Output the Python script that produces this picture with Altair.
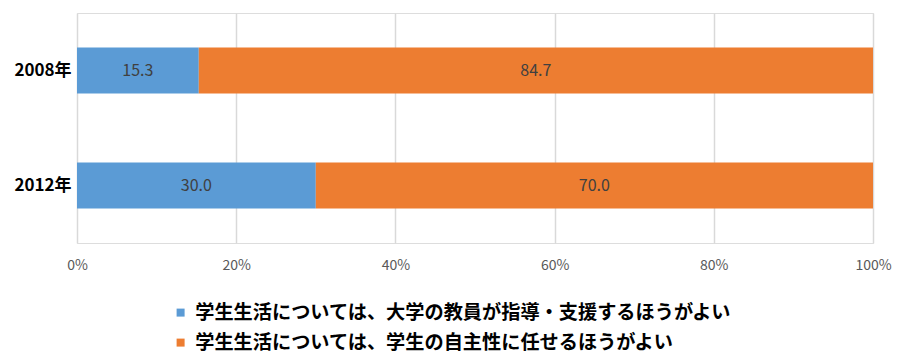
import altair as alt
import pandas as pd

years = ["2008年", "2012年"]
series = ["学生生活については、大学の教員が指導・支援するほうがよい",
          "学生生活については、学生の自主性に任せるほうがよい"]
guide = [15.3, 30.0]
autonomy = [84.7, 70.0]
colors = ["#5B9BD5", "#ED7D31"]
ticks = [0, 20, 40, 60, 80, 100]

rows = []
for i, y in enumerate(years):
    rows.append({"year": y, "series": series[0], "value": guide[i], "ord": 0})
    rows.append({"year": y, "series": series[1], "value": autonomy[i], "ord": 1})
df = pd.DataFrame(rows)

FONT = "Noto Sans CJK JP"

base = alt.Chart(df).transform_stack(
    stack="value", groupby=["year"], as_=["x0", "x1"],
    sort=[alt.SortField("ord", order="ascending")]
).transform_calculate(mid="(datum.x0 + datum.x1) / 2")

yenc = alt.Y("year:N", sort=years, title=None,
             scale=alt.Scale(paddingInner=0.6, paddingOuter=0.3),
             axis=alt.Axis(labelFontSize=17, labelFontWeight="bold", labelColor="#000000",
                           labelFont=FONT, ticks=False, domain=False, labelPadding=6))

bars = base.mark_bar().encode(
    x=alt.X("x0:Q", title=None,
            scale=alt.Scale(domain=[0, 100]),
            axis=alt.Axis(values=ticks, labelExpr="datum.value + '%'", grid=True,
                          gridColor="#D9D9D9", gridWidth=1.5, domain=False, ticks=False,
                          labelFlush=False, labelOverlap=False,
                          labelFontSize=14, labelColor="#595959", labelFont=FONT,
                          labelPadding=15)),
    x2="x1:Q",
    y=yenc,
    color=alt.Color("series:N", sort=series,
                    scale=alt.Scale(domain=series, range=colors),
                    legend=alt.Legend(title=None, orient="none", legendX=94, legendY=290,
                                      direction="vertical", symbolType="square",
                                      symbolSize=64, symbolStrokeWidth=0,
                                      labelFontSize=19.2, labelFontWeight="bold",
                                      labelColor="#000000", labelFont=FONT,
                                      labelOffset=5, rowPadding=10, labelLimit=800)),
)

labels = base.mark_text(fontSize=16, color="#404040", font=FONT).encode(
    x=alt.X("mid:Q"),
    y=alt.Y("year:N", sort=years),
    text=alt.Text("value:Q", format=".1f"),
)

chart = alt.layer(bars, labels).properties(
    width=796, height=230,
    padding={"left": 5, "top": 5, "right": 0, "bottom": 5},
).configure_view(stroke=None).configure(background="#FFFFFF")

chart.save("out.html", embed_options={"renderer": "svg", "actions": False})
